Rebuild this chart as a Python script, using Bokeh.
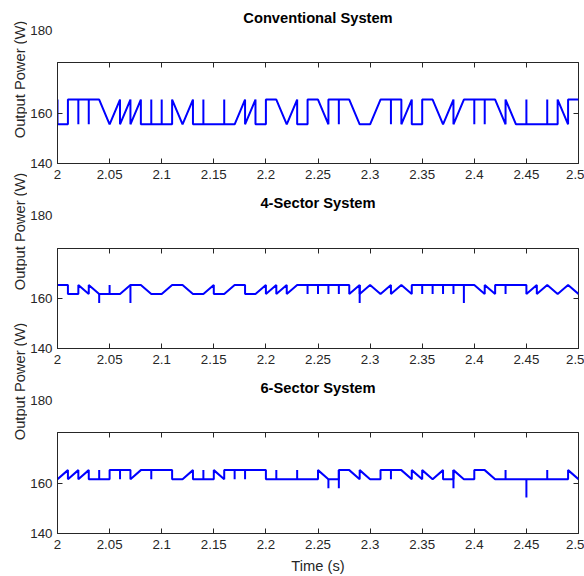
import math
from bokeh.plotting import figure
from bokeh.layouts import column, row
from bokeh.models import Range1d, LinearAxis, FixedTicker, Label
from bokeh.embed import file_html
from bokeh.resources import INLINE

# ---------------- data ----------------
# cell boundaries (s)
cell_t = [2.00, 2.01, 2.02, 2.03, 2.04, 2.05, 2.06, 2.07, 2.08, 2.09,
          2.10, 2.11, 2.12, 2.13, 2.14, 2.15, 2.16, 2.17, 2.18, 2.19,
          2.20, 2.21, 2.22, 2.23, 2.24, 2.25, 2.26, 2.27, 2.28, 2.29,
          2.30, 2.31, 2.32, 2.33, 2.34, 2.35, 2.36, 2.37, 2.38, 2.39,
          2.40, 2.41, 2.42, 2.43, 2.44, 2.45, 2.46, 2.47, 2.48, 2.49, 2.50]

# Conventional system: power at start / end of each cell (W)
conv_start = [155.5, 165.3, 165.3, 165.3, 165.3, 155.5, 155.5, 155.5, 155.5, 155.5,
              155.5, 165.3, 155.5, 155.5, 155.5, 155.5, 155.5, 155.5, 155.5, 155.5,
              165.3, 165.3, 155.5, 155.5, 165.3, 165.3, 165.3, 165.3, 165.3, 155.5,
              155.5, 165.3, 165.3, 155.5, 155.5, 165.3, 165.3, 155.5, 155.5, 165.3,
              165.3, 165.3, 165.3, 165.3, 155.5, 155.5, 155.5, 155.5, 165.3, 165.3]
conv_end = [155.5, 165.3, 165.3, 165.3, 155.5, 165.3, 165.3, 165.3, 155.5, 155.5,
            155.5, 155.5, 165.3, 155.5, 155.5, 155.5, 155.5, 165.3, 165.3, 155.5,
            165.3, 155.5, 165.3, 155.5, 165.3, 155.5, 165.3, 165.3, 155.5, 155.5,
            165.3, 165.3, 165.3, 165.3, 155.5, 165.3, 155.5, 165.3, 165.3, 165.3,
            165.3, 165.3, 155.5, 155.5, 155.5, 155.5, 155.5, 155.5, 155.5, 165.3]
conv_spike_t = [2.00, 2.02, 2.03, 2.09, 2.10, 2.14, 2.16, 2.27, 2.32, 2.40, 2.41, 2.45, 2.47]
conv_spike_hi = [165.3] * 13
conv_spike_lo = [155.5] * 13

# 4-sector system
s4_start = [165.4, 161.8, 165.4, 165.4, 161.8, 161.8, 161.8, 165.4, 165.4, 161.8,
            161.8, 165.4, 165.4, 161.8, 161.8, 161.8, 161.8, 165.4, 161.8, 161.8,
            161.8, 161.8, 161.8, 165.4, 165.4, 165.4, 165.4, 165.4, 161.8, 161.8,
            165.4, 161.8, 161.8, 165.4, 165.4, 165.4, 165.4, 165.4, 165.4, 165.4,
            165.4, 165.4, 165.4, 165.4, 165.4, 161.8, 161.8, 165.4, 161.8, 165.4]
s4_end = [165.4, 161.8, 161.8, 161.8, 161.8, 161.8, 165.4, 165.4, 161.8, 161.8,
          165.4, 165.4, 161.8, 161.8, 165.4, 161.8, 165.4, 165.4, 161.8, 165.4,
          165.4, 165.4, 165.4, 165.4, 165.4, 165.4, 165.4, 165.4, 165.4, 165.4,
          161.8, 165.4, 165.4, 161.8, 165.4, 165.4, 165.4, 165.4, 165.4, 165.4,
          161.8, 161.8, 165.4, 165.4, 165.4, 165.4, 165.4, 161.8, 165.4, 161.8]
s4_spike_t = [2.04, 2.05, 2.07, 2.24, 2.25, 2.26, 2.27, 2.29, 2.35, 2.36, 2.37, 2.38, 2.39, 2.43]
s4_spike_hi = [161.8, 165.4, 165.4, 165.4, 165.4, 165.4, 165.4, 165.4, 165.4, 165.4, 165.4, 165.4, 165.4, 165.4]
s4_spike_lo = [158.2, 161.8, 158.2, 161.8, 161.8, 161.8, 161.8, 158.2, 161.8, 161.8, 161.8, 161.8, 158.2, 161.8]

# 6-sector system
s6_start = [161.5, 161.5, 161.5, 161.5, 161.5, 165.1, 165.1, 161.5, 165.1, 165.1,
            165.1, 161.5, 161.5, 161.5, 161.5, 165.1, 165.1, 165.1, 165.1, 165.1,
            161.5, 161.5, 161.5, 161.5, 161.5, 165.1, 161.5, 165.1, 165.1, 165.1,
            161.5, 165.1, 165.1, 165.1, 165.1, 165.1, 161.5, 161.5, 165.1, 161.5,
            165.1, 165.1, 161.5, 161.5, 161.5, 161.5, 161.5, 161.5, 161.5, 165.1]
s6_end = [165.1, 165.1, 165.1, 161.5, 161.5, 165.1, 165.1, 165.1, 165.1, 165.1,
          165.1, 161.5, 165.1, 161.5, 161.5, 161.5, 165.1, 165.1, 165.1, 165.1,
          161.5, 161.5, 161.5, 161.5, 161.5, 161.5, 161.5, 165.1, 161.5, 161.5,
          161.5, 165.1, 165.1, 161.5, 161.5, 161.5, 165.1, 161.5, 161.5, 161.5,
          165.1, 161.5, 161.5, 161.5, 161.5, 161.5, 161.5, 161.5, 161.5, 161.5]
s6_spike_t = [2.04, 2.06, 2.09, 2.14, 2.17, 2.18, 2.21, 2.23, 2.26, 2.27, 2.32, 2.38, 2.43, 2.45, 2.47]
s6_spike_hi = [165.1, 165.1, 165.1, 165.1, 165.1, 165.1, 165.1, 165.1, 161.5, 165.1, 165.1, 165.1, 165.1, 161.5, 165.1]
s6_spike_lo = [161.5, 161.5, 161.5, 161.5, 161.5, 161.5, 161.5, 161.5, 157.9, 157.9, 161.5, 157.9, 161.5, 154.3, 161.5]

# axes
x_tick_vals = [2.0, 2.05, 2.1, 2.15, 2.2, 2.25, 2.3, 2.35, 2.4, 2.45, 2.5]
x_tick_text = ["2", "2.05", "2.1", "2.15", "2.2", "2.25", "2.3", "2.35", "2.4", "2.45", "2.5"]
y_tick_vals = [140, 160, 180]
y_tick_text = ["140", "160", "180"]
panel_titles = ["Conventional System", "4-Sector System", "6-Sector System"]
y_label_text = "Output Power (W)"
x_label_text = "Time (s)"

# ---------------- styling ----------------
FONT = "Liberation Sans"
AX = "#262626"
BLUE = "#0000FF"
LEFT_W = 27
MAIN_W = 584 - LEFT_W
STRIP_H = 50


def style_axis(ax, ticks, labels=None, standoff=5):
    ax.ticker = FixedTicker(ticks=ticks)
    ax.axis_line_color = AX
    ax.major_tick_line_color = AX
    ax.major_tick_in = 5
    ax.major_tick_out = 0
    ax.minor_tick_line_color = None
    ax.minor_tick_in = 0
    ax.minor_tick_out = 0
    ax.major_label_text_font = FONT
    ax.major_label_text_color = AX
    if labels is None:
        ax.major_label_text_font_size = "0px"
        ax.major_label_standoff = 0
        ax.axis_line_color = None
        ax.major_label_overrides = {v: "" for v in ticks}
    else:
        ax.major_label_text_font_size = "13.3px"
        ax.major_label_standoff = standoff
        ax.major_label_overrides = labels


def text_strip(title, title_y, tick_y):
    # strip above each panel: its frame is aligned with the panel frame by the column layout
    s = figure(width=MAIN_W, height=STRIP_H, output_backend="svg", toolbar_location=None,
               x_range=Range1d(2.0, 2.5), y_range=Range1d(STRIP_H, 0),
               x_axis_location=None, y_axis_location="left",
               min_border_left=28, min_border_right=6, min_border_top=0, min_border_bottom=0,
               outline_line_color=None, background_fill_color="white", border_fill_color="white")
    s.xgrid.visible = False
    s.ygrid.visible = False
    ax = s.yaxis[0]
    ax.ticker = FixedTicker(ticks=[tick_y])
    ax.major_label_overrides = {tick_y: y_tick_text[2]}
    ax.axis_line_color = None
    ax.major_tick_line_color = None
    ax.major_tick_in = 0
    ax.major_tick_out = 0
    ax.minor_tick_line_color = None
    ax.minor_tick_in = 0
    ax.minor_tick_out = 0
    ax.major_label_standoff = 5
    ax.major_label_text_font = FONT
    ax.major_label_text_font_size = "13.3px"
    ax.major_label_text_color = AX
    s.add_layout(Label(x=2.25, y=title_y, text=title, text_align="center",
                       text_baseline="middle", text_font=FONT, text_font_style="bold",
                       text_font_size="14.7px", text_color="black"))
    return s


def make_panel(start, end, sp_t, sp_hi, sp_lo, height, top, bottom, xlabel):
    p = figure(width=MAIN_W, height=height, output_backend="svg", toolbar_location=None,
               x_range=Range1d(2.0, 2.5), y_range=Range1d(140, 180),
               min_border_left=28, min_border_right=6, min_border_top=top, min_border_bottom=bottom,
               background_fill_color="white", border_fill_color="white")
    p.xgrid.visible = False
    p.ygrid.visible = False
    p.outline_line_color = AX
    p.outline_line_width = 1

    bottom_ax = p.below[0]
    style_axis(bottom_ax, x_tick_vals, {v: t for v, t in zip(x_tick_vals, x_tick_text)}, standoff=6)
    lab = {v: t for v, t in zip(y_tick_vals, y_tick_text)}
    style_axis(p.left[0], [140, 160], lab)
    top_ax = LinearAxis()
    style_axis(top_ax, x_tick_vals)
    p.add_layout(top_ax, "above")
    right_ax = LinearAxis()
    style_axis(right_ax, y_tick_vals)
    p.add_layout(right_ax, "right")

    if xlabel:
        bottom_ax.axis_label = x_label_text
        bottom_ax.axis_label_text_font = FONT
        bottom_ax.axis_label_text_font_size = "14.7px"
        bottom_ax.axis_label_text_font_style = "normal"
        bottom_ax.axis_label_text_color = AX
        bottom_ax.axis_label_standoff = 6

    xs, ys = [], []
    for i in range(len(start)):
        xs += [cell_t[i], cell_t[i + 1]]
        ys += [start[i], end[i]]
    p.line(xs, ys, line_color=BLUE, line_width=2)
    p.segment(x0=sp_t, y0=sp_hi, x1=sp_t, y1=sp_lo, line_color=BLUE, line_width=2)
    return p


strip1 = text_strip(panel_titles[0], 17, 30)
p1 = make_panel(conv_start, conv_end, conv_spike_t, conv_spike_hi, conv_spike_lo, 136, 12, 23, False)
strip2 = text_strip(panel_titles[1], 16, 29)
p2 = make_panel(s4_start, s4_end, s4_spike_t, s4_spike_hi, s4_spike_lo, 135, 12, 23, False)
strip3 = text_strip(panel_titles[2], 16, 29)
p3 = make_panel(s6_start, s6_end, s6_spike_t, s6_spike_hi, s6_spike_lo, 155, 11, 43, True)

# narrow strip holding the three y-axis titles
side = figure(width=LEFT_W, height=576, output_backend="svg", toolbar_location=None,
              x_range=Range1d(0, LEFT_W), y_range=Range1d(576, 0),
              x_axis_location=None, y_axis_location=None, min_border=0,
              outline_line_color=None, background_fill_color="white", border_fill_color="white")
side.xgrid.visible = False
side.ygrid.visible = False
for yc in [79, 231, 381]:
    side.add_layout(Label(x=19, y=yc, text=y_label_text, angle=math.pi / 2,
                          text_align="center", text_baseline="middle", text_font=FONT,
                          text_font_size="14.7px", text_color=AX))

layout = row(side, column(strip1, p1, strip2, p2, strip3, p3, spacing=0), spacing=0)
open("out.html", "w").write(file_html(layout, INLINE))
